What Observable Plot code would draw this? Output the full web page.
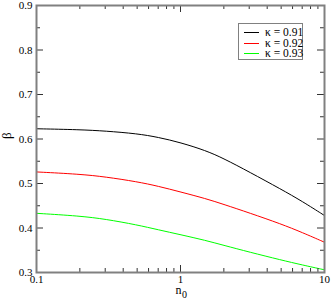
<!DOCTYPE html>
<html><head><meta charset="utf-8">
<script src="https://cdn.jsdelivr.net/npm/d3@7"></script>
<script src="https://cdn.jsdelivr.net/npm/@observablehq/plot@0.6"></script>
<style>
body{margin:0;background:#fff}
#chart{position:relative;width:332px;height:301px;font-family:'Liberation Serif',serif}
#chart svg text{font-family:'Liberation Serif',serif}
#legend{position:absolute;left:238px;top:23px;width:63px;height:35px;border:1.5px solid #808080;background:#fff}
.row{position:absolute;left:0;height:11px;width:63px}
.sw{position:absolute;left:5px;top:5px;width:15px;height:1px}
.lab{position:absolute;left:26px;top:-2px;font-size:11.5px;line-height:14px;color:#000;white-space:nowrap;font-family:'Liberation Serif',serif}
</style>
</head><body><div id="chart"></div>
<script>
const n0 = [0.1, 0.2, 0.3, 0.5, 0.7, 1, 1.5, 2, 3, 5, 7, 10];
const kappas = ["0.91", "0.92", "0.93"];
const colors = ["#000000", "#ff0000", "#00ff00"];
const beta091 = [0.623, 0.621, 0.618, 0.612, 0.604, 0.592, 0.574, 0.556, 0.526, 0.487, 0.460, 0.428];
const beta092 = [0.526, 0.521, 0.515, 0.504, 0.494, 0.481, 0.466, 0.453, 0.434, 0.409, 0.390, 0.368];
const beta093 = [0.433, 0.427, 0.420, 0.407, 0.396, 0.385, 0.372, 0.361, 0.346, 0.328, 0.317, 0.306];
const xLabels = [0.1, 1, 10];
const xMinor = [0.2,0.3,0.4,0.5,0.6,0.7,0.8,0.9,2,3,4,5,6,7,8,9];
const yLabels = [0.3, 0.4, 0.5, 0.6, 0.7, 0.8, 0.9];
const yMajorInner = [0.4, 0.5, 0.6, 0.7, 0.8];
const yMinor = [0.35, 0.45, 0.55, 0.65, 0.75, 0.85];

const series = [beta091, beta092, beta093];
const rows = [];
series.forEach((s, i) => s.forEach((b, j) => rows.push({n0: n0[j], beta: b, kappa: kappas[i]})));

const W = 332, H = 301, mL = 36, mR = 8, mT = 5, mB = 29;
const fw = W - mL - mR, fh = H - mT - mB;
const maj = 7, mino = 4;
const tickStroke = "#333";
const serif = "Liberation Serif";

const plot = Plot.plot({
  width: W, height: H,
  marginLeft: mL, marginRight: mR, marginTop: mT, marginBottom: mB,
  style: {fontFamily: serif, fontSize: "11px", background: "#fff"},
  x: {type: "log", domain: [0.1, 10]},
  y: {domain: [0.3, 0.9]},
  color: {domain: kappas, range: colors},
  marks: [
    Plot.line(rows, {x: "n0", y: "beta", z: "kappa", stroke: "kappa", strokeWidth: 1, curve: "basis"}),
    Plot.ruleX([1], {insetTop: fh - maj, stroke: tickStroke}),
    Plot.ruleX(xMinor, {insetTop: fh - mino, stroke: tickStroke}),
    Plot.ruleX([1], {insetBottom: fh - maj, stroke: tickStroke}),
    Plot.ruleX(xMinor, {insetBottom: fh - mino, stroke: tickStroke}),
    Plot.ruleY(yMajorInner, {insetRight: fw - maj, stroke: tickStroke}),
    Plot.ruleY(yMinor, {insetRight: fw - mino, stroke: tickStroke}),
    Plot.ruleY(yMajorInner, {insetLeft: fw - maj, stroke: tickStroke}),
    Plot.ruleY(yMinor, {insetLeft: fw - mino, stroke: tickStroke}),
    Plot.frame({stroke: "#808080", strokeWidth: 2}),
    Plot.axisX({ticks: xLabels, tickSize: 0, tickPadding: 3, tickFormat: d => String(d), label: null, fontSize: 11, fontFamily: serif, fill: "#000"}),
    Plot.axisY({ticks: yLabels, tickSize: 0, tickPadding: 4, tickFormat: d => d.toFixed(1), label: null, fontSize: 11, fontFamily: serif, fill: "#000"}),
    Plot.text(["n"], {text: d => d, frameAnchor: "bottom", dx: -2, dy: 21.5, fontSize: 12, fontFamily: serif, fill: "#000"}),
    Plot.text(["0"], {text: d => d, frameAnchor: "bottom", dx: 4, dy: 25, fontSize: 10, fontFamily: serif, fill: "#000"}),
    Plot.text(["β"], {text: d => d, frameAnchor: "left", dx: -30, rotate: -90, fontSize: 13, fontFamily: serif, fill: "#000"})
  ]
});

const chart = document.getElementById("chart");
chart.appendChild(plot);
const legend = document.createElement("div");
legend.id = "legend";
kappas.forEach((k, i) => {
  const r = document.createElement("div");
  r.className = "row";
  r.style.top = (3 + 10.5 * i) + "px";
  const sw = document.createElement("div");
  sw.className = "sw";
  sw.style.background = colors[i];
  const lab = document.createElement("div");
  lab.className = "lab";
  lab.textContent = "κ = " + k;
  r.appendChild(sw); r.appendChild(lab);
  legend.appendChild(r);
});
chart.appendChild(legend);
</script>
</body></html>
